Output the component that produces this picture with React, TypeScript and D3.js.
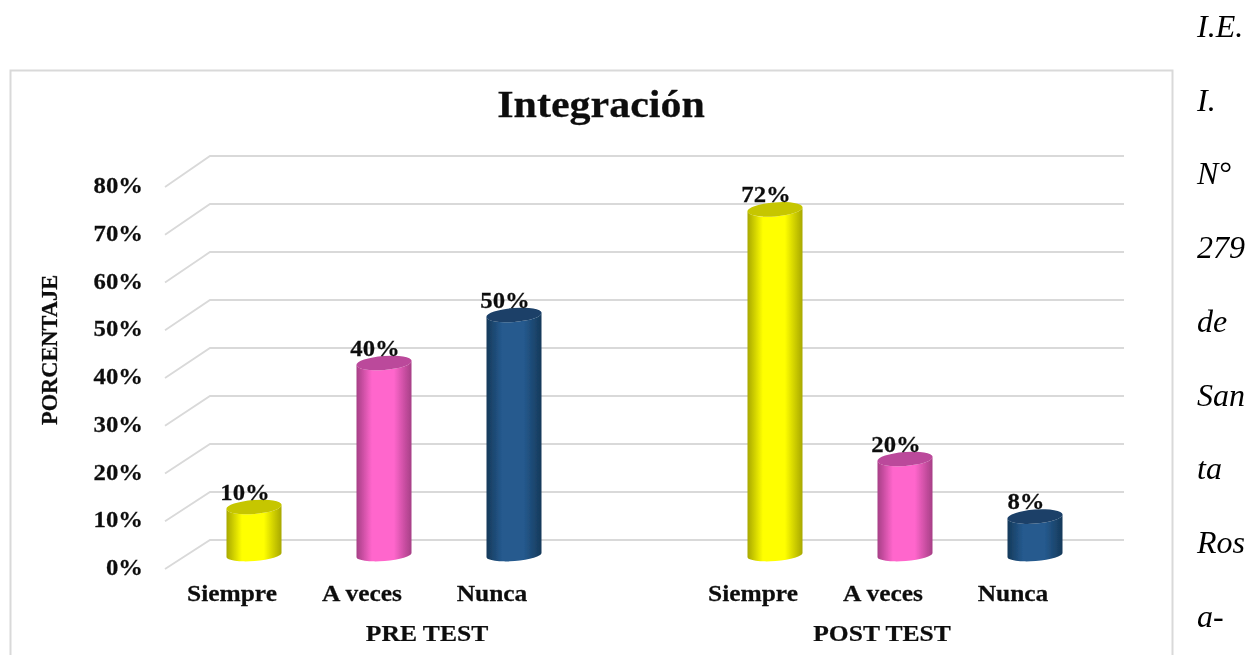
import React from "react";
import * as d3 from "d3";

const title = "Integración";
const axisTitle = "PORCENTAJE";
const groups = ["PRE TEST", "POST TEST"];
const categories = ["Siempre", "A veces", "Nunca"];
const preTest = [10, 40, 50];
const postTest = [72, 20, 8];
const tickValues = [0, 10, 20, 30, 40, 50, 60, 70, 80];
const sideWords = ["I.E.", "I.", "N°", "279", "de", "San", "ta", "Ros", "a-"];
const palette = [
  { id: "y", edge: "#a8a800", mid: "#ffff00", top: "#c6c600" },
  { id: "p", edge: "#a63f86", mid: "#ff66cc", top: "#bb4a9b" },
  { id: "n", edge: "#15395a", mid: "#255a8e", top: "#1a4068" },
];

const FONT = "'Liberation Serif', serif";
const W = 1250, H = 655;

const yBack = d3.scaleLinear().domain([0, 80]).range([540, 156]);
const yFront = d3.scaleLinear().domain([0, 80]).range([569, 187]);
const yBar = d3.scaleLinear().domain([0, 80]).range([555, 171]);
const xGroup = d3.scaleOrdinal<string, number>().domain(groups).range([254, 775]);
const xCat = d3.scaleBand().domain(categories).range([-65, 325]);
const groupLabelX = d3.scaleOrdinal<string, number>().domain(groups).range([427, 882]);

const RX = 27.5, RY = 7, RY_BASE = 6, TILT = 2.2;

function Label({ x, y, size, sx, anchor = "middle", children }: any) {
  return (
    <text transform={`translate(${x},${y}) scale(${sx},1)`} textAnchor={anchor} fontFamily={FONT} fontWeight={700} fontSize={size} fill="#111" stroke="#111" strokeWidth={0.25}>
      {children}
    </text>
  );
}

function Bar({ cx, value, c }: { cx: number; value: number; c: (typeof palette)[number] }) {
  const yb = yBar(0), yt = yBar(value);
  const body = `M${cx - RX},${yt + TILT} L${cx - RX},${yb + TILT} A${RX},${RY_BASE} -4.5 0 0 ${cx + RX},${yb - TILT} L${cx + RX},${yt - TILT} A${RX},${RY} -4.5 0 1 ${cx - RX},${yt + TILT} Z`;
  return (
    <g>
      <path d={body} fill={`url(#grad-${c.id})`} />
      <ellipse cx={cx} cy={yt} rx={RX + 0.2} ry={RY} fill={c.top} transform={`rotate(-4.5 ${cx} ${yt})`} />
      <Label x={cx - 9} y={yt - 7.5} size={24} sx={1.03}>{value}%</Label>
    </g>
  );
}

export default function App() {
  const series = [preTest, postTest];
  const centre = (g: string, cat: string) => xGroup(g) + (xCat(cat) as number) + xCat.bandwidth() / 2;
  return (
    <svg width={W} height={H} viewBox={`0 0 ${W} ${H}`} style={{ position: "absolute", left: 0, top: 0, display: "block", background: "#fff" }}>
      <defs>
        {palette.map((c) => (
          <linearGradient key={c.id} id={`grad-${c.id}`} x1="0" x2="1" y1="0" y2="0">
            <stop offset="0" stopColor={c.edge} />
            <stop offset="0.28" stopColor={c.mid} />
            <stop offset="0.68" stopColor={c.mid} />
            <stop offset="1" stopColor={c.edge} />
          </linearGradient>
        ))}
        <filter id="soft" x="0" y="0" width={W} height={H} filterUnits="userSpaceOnUse">
          <feGaussianBlur stdDeviation="0.45" />
        </filter>
      </defs>

      <g filter="url(#soft)">
        <rect x={0} y={0} width={W} height={H} fill="#fff" />
        <rect x={10.5} y={70.5} width={1162} height={640} fill="#fff" stroke="#d9d9d9" strokeWidth={2} />

        {sideWords.map((w, i) => (
          <text key={i} x={1197} y={37 + i * 73.7} fontFamily={FONT} fontStyle="italic" fontSize={32} fill="#000">{w}</text>
        ))}

        <Label x={601} y={117} size={38} sx={1.105}>{title}</Label>

        {tickValues.map((t) => (
          <g key={t}>
            <path d={`M165,${yFront(t)} L210,${yBack(t)} L1124,${yBack(t)}`} fill="none" stroke="#d9d9d9" strokeWidth={1.8} />
            <Label x={143} y={yFront(t) + 6} size={24} sx={1.03} anchor="end">{t}%</Label>
          </g>
        ))}

        <text transform="translate(57,350) rotate(-90) scale(1,1)" textAnchor="middle" fontFamily={FONT} fontWeight={700} fontSize={22.4} fill="#111" stroke="#111" strokeWidth={0.25}>{axisTitle}</text>

        {groups.map((g, gi) => (
          <g key={g}>
            {categories.map((cat, i) => (
              <Bar key={cat} cx={centre(g, cat)} value={series[gi][i]} c={palette[i]} />
            ))}
            {categories.map((cat) => (
              <Label key={cat} x={centre(g, cat) - 22} y={601} size={24} sx={1.06}>{cat}</Label>
            ))}
            <Label x={groupLabelX(g)} y={641} size={24} sx={1.065}>{g}</Label>
          </g>
        ))}
      </g>
    </svg>
  );
}
